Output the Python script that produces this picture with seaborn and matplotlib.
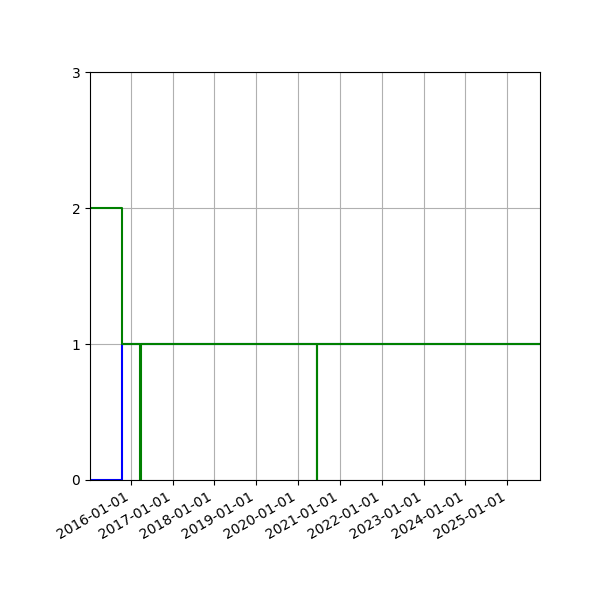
import pandas as pd
import matplotlib
matplotlib.use('Agg')
import matplotlib.pyplot as plt
import matplotlib.dates as mdates
import seaborn as sns

# blue series (step, post)
blue_dates = ['2015-01-12', '2015-10-17', '2025-10-13']
blue_values = [0, 1, 1]

# green series (step, post)
green_dates = ['2015-01-12', '2015-10-17', '2016-03-21', '2016-03-30',
               '2020-06-12', '2020-06-13', '2025-10-13']
green_values = [2, 1, 0, 1, 0, 1, 1]

df = pd.concat([
    pd.DataFrame({'date': pd.to_datetime(blue_dates), 'value': blue_values, 'series': 'a'}),
    pd.DataFrame({'date': pd.to_datetime(green_dates), 'value': green_values, 'series': 'b'}),
], ignore_index=True)

fig, ax = plt.subplots(figsize=(6, 6), dpi=100)
sns.lineplot(data=df, x='date', y='value', hue='series',
             palette={'a': 'blue', 'b': 'green'}, drawstyle='steps-post',
             estimator=None, sort=False, legend=False, ax=ax, linewidth=1.5)

ax.set_xlim(pd.Timestamp('2015-01-12'), pd.Timestamp('2025-10-13'))
ax.set_ylim(0, 3)
ax.set_yticks([0, 1, 2, 3])
ax.xaxis.set_major_locator(mdates.YearLocator())
ax.xaxis.set_major_formatter(mdates.DateFormatter('%Y-%m-%d'))
ax.set_xlabel('')
ax.set_ylabel('')
ax.grid(True)
fig.autofmt_xdate()
fig.subplots_adjust(left=0.15, right=0.9, top=0.88, bottom=0.2)
fig.savefig('out.png', dpi=100)
